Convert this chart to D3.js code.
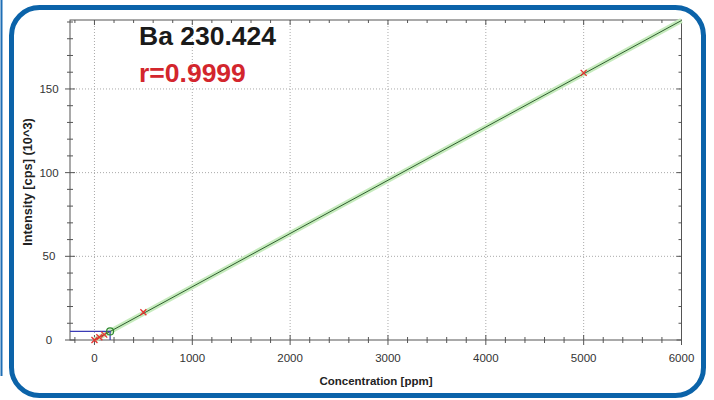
<!DOCTYPE html>
<html lang="en">
<head>
<meta charset="UTF-8">
<title>Ba 230.424 calibration</title>
<script src="https://d3js.org/d3.v7.min.js"></script>
<style>
  html, body { margin: 0; padding: 0; background: #fff; }
  svg { display: block; font-family: "Liberation Sans", Arial, sans-serif; }
  .tick-label { font-size: 11.5px; fill: #333; }
  .axis-title { font-size: 11.5px; font-weight: bold; fill: #222; }
</style>
</head>
<body>
<div id="chart"></div>
<script>
// calibration standards (ppm) and measured intensity (cps x 10^3)
const stdConc = [0, 50, 100, 500, 5000];
const stdIntensity = [0, 1.6, 3.2, 16.6, 159.6];
// unknown sample
const sampleConc = [160];
const sampleIntensity = [5.1];
// fitted line end points
const fitConc = [0, 6000];
const fitIntensity = [0, 190.9];
const xTicks = [0, 1000, 2000, 3000, 4000, 5000, 6000];
const yTicks = [0, 50, 100, 150];
const element = "Ba 230.424";
const rValue = "r=0.9999";

const width = 714, height = 400;
const svg = d3.select("#chart").append("svg")
  .attr("width", width).attr("height", height);

// frame
svg.append("line").attr("x1", 1.5).attr("x2", 1.5).attr("y1", 0).attr("y2", 376)
  .attr("stroke", "#1f6fb5").attr("stroke-width", 2);
svg.append("rect")
  .attr("x", 11.5).attr("y", 7.5).attr("width", 692).attr("height", 388)
  .attr("rx", 28).attr("ry", 28)
  .attr("fill", "none").attr("stroke", "#0b63a9").attr("stroke-width", 5);

const pLeft = 70, pRight = 681.5, pTop = 20, pBottom = 340;
const x = d3.scaleLinear().domain([-250, 6000]).range([pLeft, pRight]);
const y = d3.scaleLinear().domain([0, 191.2]).range([pBottom, pTop]);

// grid
const grid = svg.append("g").attr("stroke", "#aaa").attr("stroke-dasharray", "1,2");
xTicks.filter(d => d < 6000).forEach(d => {
  grid.append("line").attr("x1", x(d)).attr("x2", x(d)).attr("y1", pTop).attr("y2", pBottom);
});
yTicks.filter(d => d > 0).forEach(d => {
  grid.append("line").attr("x1", pLeft).attr("x2", pRight).attr("y1", y(d)).attr("y2", y(d));
});

// frame axes and ticks
const ax = svg.append("g").attr("stroke", "#555").attr("stroke-width", 1);
ax.append("rect").attr("x", pLeft).attr("y", pTop).attr("width", pRight - pLeft).attr("height", pBottom - pTop)
  .attr("fill", "none");
d3.range(-200, 6001, 200).forEach(d => {
  const major = d % 1000 === 0;
  const l = major ? 5 : 3;
  ax.append("line").attr("x1", x(d)).attr("x2", x(d)).attr("y1", pBottom - l).attr("y2", pBottom + l);
  ax.append("line").attr("x1", x(d)).attr("x2", x(d)).attr("y1", pTop).attr("y2", pTop + l);
});
d3.range(0, 191, 10).forEach(d => {
  const major = d % 50 === 0;
  const l = major ? 5 : 3;
  ax.append("line").attr("x1", pLeft - l).attr("x2", pLeft + l).attr("y1", y(d)).attr("y2", y(d));
  ax.append("line").attr("x1", pRight - l).attr("x2", pRight).attr("y1", y(d)).attr("y2", y(d));
});

// tick labels
svg.selectAll(".xl").data(xTicks).join("text")
  .attr("class", "tick-label").attr("x", d => x(d)).attr("y", 362)
  .attr("text-anchor", "middle").text(d => d);
svg.selectAll(".yl").data(yTicks).join("text")
  .attr("class", "tick-label").attr("x", 49).attr("y", d => y(d) + 4)
  .attr("text-anchor", "middle").text(d => d);

// axis titles
svg.append("text").attr("class", "axis-title").attr("x", 376).attr("y", 385)
  .attr("text-anchor", "middle").text("Concentration [ppm]");
svg.append("text").attr("class", "axis-title").style("font-size", "12.8px")
  .attr("transform", "translate(32,182) rotate(-90)")
  .attr("text-anchor", "middle").text("Intensity [cps] (10^3)");

// fitted curve with band
const fit = fitConc.map((c, i) => [c, fitIntensity[i]]);
const line = d3.line().x(d => x(d[0])).y(d => y(d[1]));
svg.append("path").attr("d", line(fit)).attr("stroke", "#c6ebbd").attr("stroke-width", 5).attr("fill", "none");
svg.append("path").attr("d", line(fit)).attr("stroke", "#2f5f2f").attr("stroke-width", 1).attr("fill", "none");

// sample readout lines
const sx = x(sampleConc[0]), sy = y(sampleIntensity[0]);
svg.append("path").attr("d", `M${pLeft},${sy}H${sx}V${pBottom}`)
  .attr("stroke", "#3b3bb5").attr("stroke-width", 1.2).attr("fill", "none");

// standards
stdConc.forEach((c, i) => {
  const px = x(c), py = y(stdIntensity[i]), s = 3;
  svg.append("path").attr("d", `M${px - s},${py - s}L${px + s},${py + s}M${px - s},${py + s}L${px + s},${py - s}`)
    .attr("stroke", "#e8312f").attr("stroke-width", 1.3);
});
svg.append("circle").attr("cx", sx).attr("cy", sy).attr("r", 3.5)
  .attr("fill", "none").attr("stroke", "#2e8b2e").attr("stroke-width", 1.2);

// titles
svg.append("text").attr("x", 139).attr("y", 45).attr("font-size", "26.5px").attr("font-weight", "bold")
  .attr("fill", "#1a1a1a").text(element);
svg.append("text").attr("x", 139).attr("y", 82).attr("font-size", "26.5px").attr("font-weight", "bold")
  .attr("fill", "#d3262d").text(rValue);
</script>
</body>
</html>
